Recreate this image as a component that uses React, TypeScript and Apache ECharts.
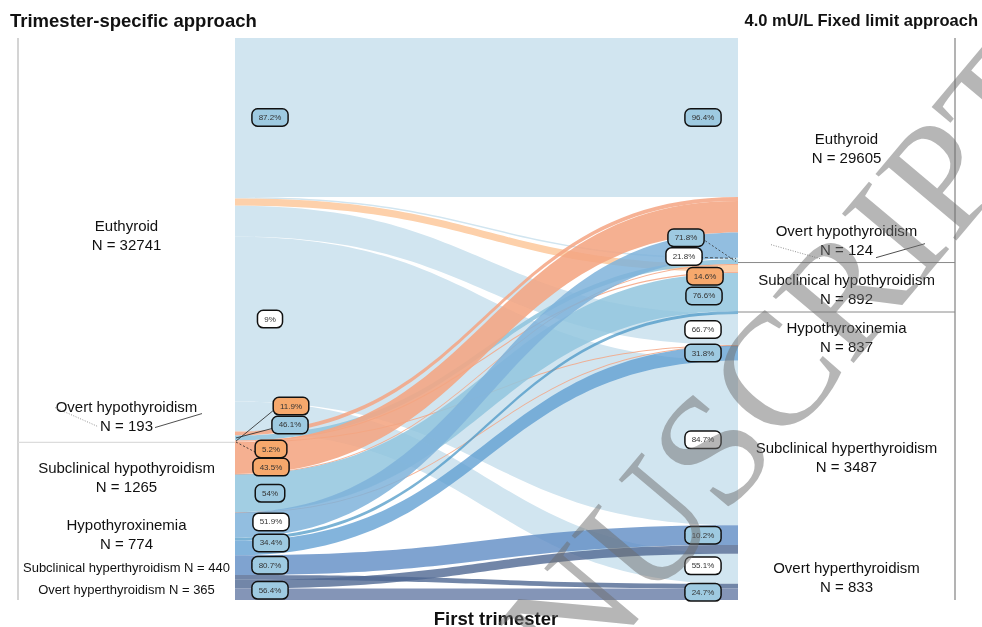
import React, { useEffect, useRef } from "react";
import * as echarts from "echarts";

// ---------------- data ----------------
const categories = [
  "Euthyroid",
  "Overt hypothyroidism",
  "Subclinical hypothyroidism",
  "Hypothyroxinemia",
  "Subclinical hyperthyroidism",
  "Overt hyperthyroidism",
];
const leftTitle = "Trimester-specific approach";
const rightTitle = "4.0 mU/L Fixed limit approach";
const axisTitle = "First trimester";
const watermarkText = "MANUSCRIPT";

// N of each class, trimester-specific (left) and fixed-limit (right)
const leftTotals = [32741, 193, 1265, 774, 440, 365];
const rightTotals = [29605, 124, 892, 837, 3487, 833];

// flows: from left class -> to right class, number of women
const flowFrom = [0, 0, 0, 0, 0, 0, 1, 1, 1, 1, 2, 2, 2, 2, 3, 3, 3, 4, 4, 5, 5];
const flowTo = [0, 1, 2, 3, 4, 5, 0, 1, 2, 3, 0, 1, 2, 3, 0, 2, 3, 4, 5, 4, 5];
const flowCount = [28511, 27, 130, 558, 2973, 542, 71, 89, 23, 10, 571, 8, 683, 3, 452, 56, 266, 355, 85, 159, 206];
// kind of reclassification: same class / hypothyroid-related change / other change
const flowClass = [
  "same", "other", "hypo", "other", "other", "other",
  "hypo", "same", "hypo", "hypo",
  "hypo", "hypo", "same", "hypo",
  "other", "other", "same",
  "same", "other",
  "other", "same",
];
// percentages printed at the left end (share of source) and right end (share of target)
const leftPct = ["87.2%", "", "", "", "9%", "", "", "46.1%", "11.9%", "5.2%", "43.5%", "", "54%", "", "51.9%", "", "34.4%", "80.7%", "", "", "56.4%"];
const rightPct = ["96.4%", "21.8%", "14.6%", "66.7%", "84.7%", "55.1%", "", "71.8%", "", "", "", "", "76.6%", "", "", "", "31.8%", "10.2%", "", "", "24.7%"];
// The reference draws the huge Euthyroid -> Euthyroid ribbon on a broken (truncated) scale;
// this is the value at which it is drawn.
const euthyroidStayDrawn = 2867;

// ---------------- styles ----------------
const FONT = '"Liberation Sans", Arial, Helvetica, sans-serif';
const SERIES_LEFT = 18;
const SERIES_RIGHT = 27;
const SERIES_TOP = 38;
const SERIES_BOTTOM = 27;
const NODE_WIDTH = 217;

const FLOW_STYLE: Array<[string, number]> = [
  ["#d1e5f0", 1],
  ["#d1e5f0", 1],
  ["#fdd0aa", 1],
  ["#d1e5f0", 1],
  ["#d1e5f0", 1],
  ["#d1e5f0", 1],
  ["#f4a582", 0.85],
  ["#92c5de", 0.9],
  ["#f4a582", 0.85],
  ["#f4a582", 0.85],
  ["#f4a582", 0.88],
  ["#f4a582", 0.85],
  ["#92c5de", 0.85],
  ["#f4a582", 0.85],
  ["#7fb3da", 0.85],
  ["#4393c3", 0.7],
  ["#5a9bd0", 0.75],
  ["#5f8cc4", 0.8],
  ["#4f6892", 0.8],
  ["#4f6892", 0.8],
  ["#6f82aa", 0.85],
];
const BOX_FILL: Record<string, string> = { same: "#9ecae1", hypo: "#f6a86c", other: "#ffffff" };

// repelled label nudges [dx, dy] keyed by flow index
const LEFT_NUDGE: Record<number, [number, number]> = {
  7: [20, -13], 8: [21, -35], 9: [1, 7], 10: [1, 9], 14: [1, -3], 16: [1, -5], 20: [0, -4],
};
const RIGHT_NUDGE: Record<number, [number, number]> = {
  1: [-19, -2], 7: [-17, -24], 2: [2, 8], 12: [1, 4], 4: [0, -3], 5: [0, -3], 20: [0, -2],
};
const LEFT_LEADERS: Record<number, number[] | null> = { 7: null, 8: null, 9: [2, 2] };
const RIGHT_LEADERS: Record<number, number[] | null> = { 7: [2, 2], 1: [3, 2] };

const SMALL_LEFT = new Set([4, 5]);

function nodeLabel(side: string, i: number) {
  const total = side === "L" ? leftTotals[i] : rightTotals[i];
  const small = side === "L" && SMALL_LEFT.has(i);
  return {
    show: true,
    position: "inside",
    formatter: small ? `${categories[i]} N = ${total}` : `${categories[i]}\nN = ${total}`,
    fontFamily: FONT,
    fontSize: small ? 13 : 15,
    lineHeight: 19,
    color: "#111",
    align: "center",
    offset: i === 1 ? [0, -21] : [0, 0],
  };
}

export default function App() {
  const ref = useRef<HTMLDivElement>(null);

  useEffect(() => {
    if (!ref.current) return;
    const chart = echarts.init(ref.current, undefined, { renderer: "svg" });

    const nodes: any[] = [];
    ["L", "R"].forEach((side) => {
      categories.forEach((_, i) => {
        nodes.push({ name: side + i, label: nodeLabel(side, i) });
      });
    });
    const links = flowCount.map((v, k) => ({
      source: "L" + flowFrom[k],
      target: "R" + flowTo[k],
      value: flowFrom[k] === 0 && flowTo[k] === 0 ? euthyroidStayDrawn : v,
      lineStyle: { color: FLOW_STYLE[k][0], opacity: FLOW_STYLE[k][1], curveness: 0.5 },
    }));

    chart.setOption({
      animation: false,
      series: [
        {
          type: "sankey",
          left: SERIES_LEFT,
          right: SERIES_RIGHT,
          top: SERIES_TOP,
          bottom: SERIES_BOTTOM,
          nodeWidth: NODE_WIDTH,
          nodeGap: 0,
          layoutIterations: 0,
          nodeAlign: "justify",
          draggable: false,
          silent: true,
          emphasis: { disabled: true, focus: "none" },
          itemStyle: { color: "#ffffff", borderWidth: 0 },
          label: { show: true, position: "inside" },
          lineStyle: { curveness: 0.5 },
          data: nodes,
          links,
        },
      ],
    });

    const g: any[] = [];
    // titles
    g.push({
      type: "text", x: 10, y: 20, z: 60,
      style: { text: leftTitle, font: `bold 18.5px ${FONT}`, fill: "#111", align: "left", verticalAlign: "middle", textAlign: "left", textVerticalAlign: "middle" },
    });
    g.push({
      type: "text", x: 978, y: 20, z: 60,
      style: { text: rightTitle, font: `bold 16.5px ${FONT}`, fill: "#111", align: "right", verticalAlign: "middle", textAlign: "right", textVerticalAlign: "middle" },
    });
    g.push({
      type: "text", x: 496, y: 618, z: 60,
      style: { text: axisTitle, font: `bold 18.5px ${FONT}`, fill: "#111", align: "center", verticalAlign: "middle", textAlign: "center", textVerticalAlign: "middle" },
    });

    try {
      const model: any = (chart as any).getModel();
      const series: any = model.getSeriesByIndex(0);
      const graph: any = series.getGraph ? series.getGraph() : series.getData().graph;
      const nodeAt = (idx: number) => graph.nodes.find((n: any) => n.dataIndex === idx).getLayout();
      const n = categories.length;
      const L0 = nodeAt(0), L5 = nodeAt(n - 1), L1 = nodeAt(1);
      const R0 = nodeAt(n), R5 = nodeAt(2 * n - 1), R1 = nodeAt(n + 1), R2 = nodeAt(n + 2);
      const ox = SERIES_LEFT, oy = SERIES_TOP;
      const leftEdgeX = ox + L0.x;
      const rightEdgeX = ox + R0.x + R0.dx;
      // stratum frame lines
      g.push({ type: "line", z: 5, shape: { x1: leftEdgeX, y1: oy + L0.y, x2: leftEdgeX, y2: oy + L5.y + L5.dy }, style: { stroke: "#d4d4d4", lineWidth: 2 } });
      g.push({ type: "line", z: 5, shape: { x1: rightEdgeX, y1: oy + R0.y, x2: rightEdgeX, y2: oy + R5.y + R5.dy }, style: { stroke: "#9a9a9a", lineWidth: 1.5 } });
      g.push({ type: "line", z: 5, shape: { x1: leftEdgeX, y1: oy + L1.y + L1.dy, x2: ox + L1.x + L1.dx, y2: oy + L1.y + L1.dy }, style: { stroke: "#dcdcdc", lineWidth: 1.2 } });
      [R1, R2].forEach((r) => {
        g.push({ type: "line", z: 5, shape: { x1: ox + r.x, y1: oy + r.y + r.dy - 2, x2: rightEdgeX, y2: oy + r.y + r.dy - 2 }, style: { stroke: "#8a8a8a", lineWidth: 1 } });
      });
      // overt hypothyroidism label leader lines
      const oh = nodeAt(1);
      const ohR = nodeAt(n + 1);
      g.push({ type: "line", z: 6, shape: { x1: 55, y1: oy + oh.y - 24, x2: 98, y2: oy + oh.y - 5 }, style: { stroke: "#777", lineWidth: 0.8, lineDash: [1, 1.5] } });
      g.push({ type: "line", z: 6, shape: { x1: 155, y1: oy + oh.y - 4, x2: 202, y2: oy + oh.y - 18 }, style: { stroke: "#222", lineWidth: 0.8 } });
      g.push({ type: "line", z: 6, shape: { x1: 771, y1: oy + ohR.y - 13, x2: 820, y2: oy + ohR.y + 1 }, style: { stroke: "#777", lineWidth: 0.8, lineDash: [1, 1.5] } });
      g.push({ type: "line", z: 6, shape: { x1: 876, y1: oy + ohR.y, x2: 925, y2: oy + ohR.y - 14 }, style: { stroke: "#222", lineWidth: 0.8 } });

      const box = (text: string, cx: number, cy: number, cls: string) => ({
        type: "text", x: cx, y: cy, z: 50,
        style: {
          text, font: `8px ${FONT}`, fill: "#333",
          align: "center", verticalAlign: "middle", textAlign: "center", textVerticalAlign: "middle",
          backgroundColor: BOX_FILL[cls], borderColor: "#111", borderWidth: 1.5, borderRadius: 5, padding: [4, 6],
        },
      });

      graph.edges.forEach((edge: any) => {
        const k = edge.dataIndex;
        const el = edge.getLayout();
        const s = edge.node1.getLayout();
        const t = edge.node2.getLayout();
        const ly = oy + s.y + el.sy + el.dy / 2;
        const ry = oy + t.y + el.ty + el.dy / 2;
        const lx = ox + s.x + s.dx;
        const rx = ox + t.x;
        if (leftPct[k]) {
          const nd = LEFT_NUDGE[k] || [0, 0];
          const cx = lx + 35 + nd[0], cy = ly + nd[1];
          if (k in LEFT_LEADERS) {
            const dash = LEFT_LEADERS[k];
            g.push({ type: "line", z: 40, shape: { x1: lx + 1, y1: ly, x2: cx - 16, y2: cy + 3 }, style: { stroke: "#222", lineWidth: 0.8, lineDash: dash || undefined } });
          }
          g.push(box(leftPct[k], cx, cy, flowClass[k]));
        }
        if (rightPct[k]) {
          const nd = RIGHT_NUDGE[k] || [0, 0];
          const cx = rx - 35 + nd[0], cy = ry + nd[1];
          if (k in RIGHT_LEADERS) {
            const dash = RIGHT_LEADERS[k];
            g.push({ type: "line", z: 40, shape: { x1: cx + 16, y1: cy + 1, x2: rx - 2, y2: ry }, style: { stroke: "#333", lineWidth: 0.8, lineDash: dash || undefined } });
          }
          g.push(box(rightPct[k], cx, cy, flowClass[k]));
        }
      });
    } catch (e) {
      // layout not reachable: keep the chart without the flow labels
    }

    // watermark
    g.push({
      type: "text", x: 700, y: 462, z: 100, rotation: (50 * Math.PI) / 180,
      style: {
        text: watermarkText, font: `160px "Liberation Serif", "DejaVu Serif", serif`,
        fill: "rgba(110,110,110,0.5)", align: "center", verticalAlign: "middle", textAlign: "center", textVerticalAlign: "middle",
      },
    });

    chart.setOption({ graphic: { elements: g } });
    return () => chart.dispose();
  }, []);

  return <div ref={ref} style={{ position: "fixed", left: 0, top: 0, width: 982, height: 627 }} />;
}
